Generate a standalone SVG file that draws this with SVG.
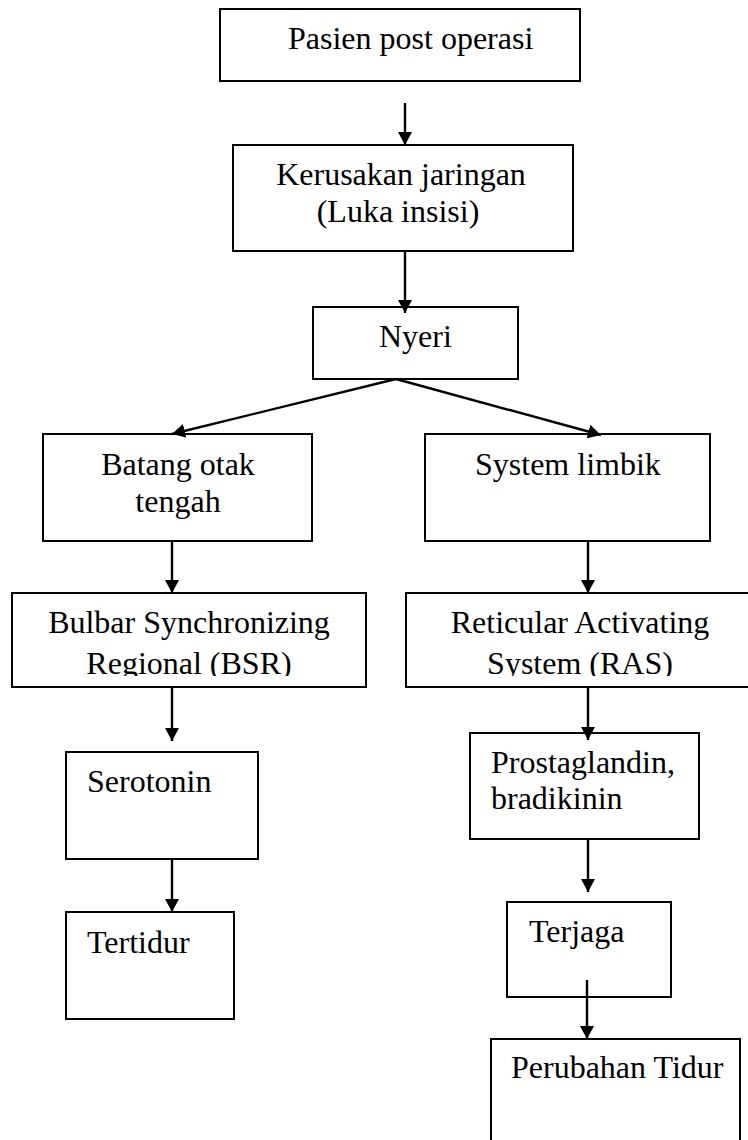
<svg xmlns="http://www.w3.org/2000/svg" width="748" height="1140" viewBox="0 0 748 1140">
<style>
  .box { fill: #ffffff; stroke: #000000; stroke-width: 2; }
  .t { font-family: "Liberation Serif", "Times New Roman", serif; font-size: 32px; fill: #000000; }
  .c { text-anchor: middle; }
  .arr { stroke: #000000; stroke-width: 2.4; fill: none; marker-end: url(#ah); }
</style>
<defs>
  <marker id="ah" viewBox="0 0 13 14" refX="13" refY="7" markerWidth="13" markerHeight="14" markerUnits="userSpaceOnUse" orient="auto">
    <path d="M0,0 L13,7 L0,14 z" fill="#000000"/>
  </marker>
  <clipPath id="clipBSR"><rect x="12" y="593" width="354" height="83"/></clipPath>
  <clipPath id="clipRAS"><rect x="406" y="593" width="360" height="83"/></clipPath>
</defs>
<rect x="0" y="0" width="748" height="1140" fill="#ffffff"/>

<g id="node-pasien">
  <rect class="box" x="220" y="9" width="360" height="72"/>
  <text class="t" x="288" y="49">Pasien post operasi</text>
</g>
<g id="node-kerusakan">
  <rect class="box" x="233" y="145" width="340" height="106"/>
  <text class="t c" x="401" y="185">Kerusakan jaringan</text>
  <text class="t c" x="398" y="222">(Luka insisi)</text>
</g>
<g id="node-nyeri">
  <rect class="box" x="313" y="307" width="205" height="72"/>
  <text class="t" x="379" y="347">Nyeri</text>
</g>
<g id="node-batang">
  <rect class="box" x="43" y="434" width="269" height="107"/>
  <text class="t c" x="178" y="475">Batang otak</text>
  <text class="t c" x="178" y="512">tengah</text>
</g>
<g id="node-limbik">
  <rect class="box" x="425" y="434" width="285" height="107"/>
  <text class="t" x="475" y="475">System limbik</text>
</g>
<g id="node-bsr">
  <rect class="box" x="12" y="593" width="354" height="94"/>
  <g clip-path="url(#clipBSR)">
    <text class="t c" x="189" y="633">Bulbar Synchronizing</text>
    <text class="t c" x="189" y="674">Regional (BSR)</text>
  </g>
</g>
<g id="node-ras">
  <rect class="box" x="406" y="593" width="360" height="94"/>
  <g clip-path="url(#clipRAS)">
    <text class="t c" x="580" y="633">Reticular Activating</text>
    <text class="t c" x="580" y="674">System (RAS)</text>
  </g>
</g>
<g id="node-serotonin">
  <rect class="box" x="66" y="752" width="192" height="107"/>
  <text class="t" x="87" y="792">Serotonin</text>
</g>
<g id="node-tertidur">
  <rect class="box" x="66" y="912" width="168" height="107"/>
  <text class="t" x="87" y="953">Tertidur</text>
</g>
<g id="node-prostaglandin">
  <rect class="box" x="470" y="733" width="229" height="106"/>
  <text class="t" x="491" y="773">Prostaglandin,</text>
  <text class="t" x="491" y="809">bradikinin</text>
</g>
<g id="node-terjaga">
  <rect class="box" x="507" y="902" width="164" height="95"/>
  <text class="t" x="529" y="942">Terjaga</text>
</g>
<g id="node-perubahan">
  <rect class="box" x="491" y="1039" width="249" height="130"/>
  <text class="t" x="511" y="1078">Perubahan Tidur</text>
</g>

<g id="connectors">
  <line class="arr" x1="405" y1="103" x2="405" y2="145"/>
  <line class="arr" x1="405" y1="251" x2="405" y2="313"/>
  <line class="arr" x1="396" y1="379" x2="172" y2="434"/>
  <line class="arr" x1="396" y1="379" x2="601" y2="435"/>
  <line class="arr" x1="172" y1="541" x2="172" y2="593"/>
  <line class="arr" x1="588" y1="541" x2="588" y2="593"/>
  <line class="arr" x1="172" y1="687" x2="172" y2="741"/>
  <line class="arr" x1="588" y1="687" x2="588" y2="740"/>
  <line class="arr" x1="172" y1="859" x2="172" y2="912"/>
  <line class="arr" x1="588" y1="839" x2="588" y2="892"/>
  <line class="arr" x1="587" y1="980" x2="587" y2="1039"/>
</g>
</svg>
